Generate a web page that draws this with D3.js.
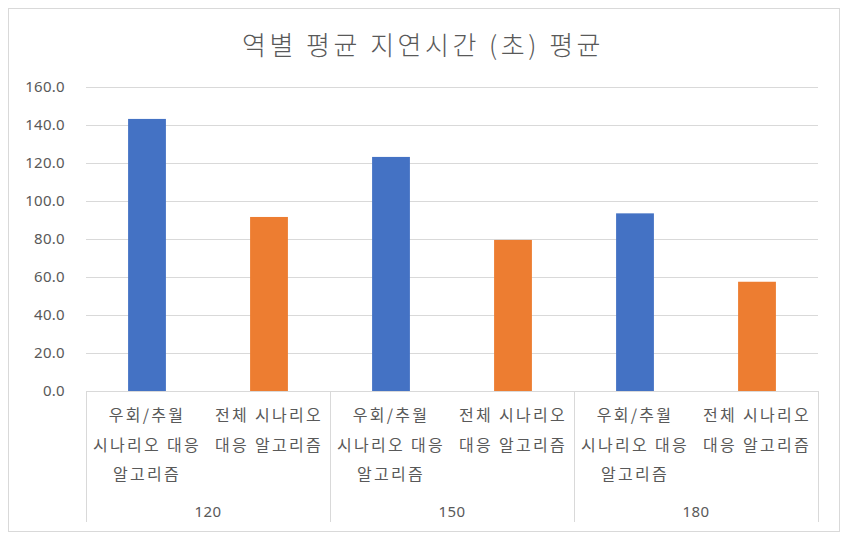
<!DOCTYPE html>
<html><head><meta charset="utf-8">
<script src="https://cdn.jsdelivr.net/npm/d3@7"></script>
<style>
html,body{margin:0;padding:0;background:#fff;}
text{font-family:"Noto Sans CJK KR","Noto Sans",sans-serif;}
</style></head>
<body><svg id="c" width="848" height="537"></svg>
<script>
const title = "역별 평균 지연시간 (초) 평균";
const groups = ["120", "150", "180"];
const subLabels = [["우회/추월", "시나리오 대응", "알고리즘"], ["전체 시나리오", "대응 알고리즘"]];
const seriesNames = ["우회/추월 시나리오 대응 알고리즘", "전체 시나리오 대응 알고리즘"];
const values = [143.2, 91.6, 123.2, 79.5, 93.5, 57.5];
const colors = ["#4472C4", "#ED7D31"];
const yTicks = [0, 20, 40, 60, 80, 100, 120, 140, 160];

(function () {
const svg = d3.select("#c");
svg.append("rect").attr("x", 8.5).attr("y", 8.5).attr("width", 831).attr("height", 523)
  .attr("fill", "#fff").attr("stroke", "#d9d9d9");

const pl = 86, pr = 818, pt = 87, pb = 391;
const keys = [];
groups.forEach((g, gi) => seriesNames.forEach((s, si) => keys.push({g, gi, si, key: g + "|" + si})));
keys.forEach((k, i) => k.v = values[i]);

const x = d3.scaleBand().domain(keys.map(k => k.key)).range([pl, pr]).paddingInner(0.69).paddingOuter(0.345);
const y = d3.scaleLinear().domain([0, 160]).range([pb, pt]);

svg.append("g").selectAll("line").data(yTicks).join("line")
  .attr("x1", pl).attr("x2", pr)
  .attr("y1", d => Math.round(y(d)) + 0.5).attr("y2", d => Math.round(y(d)) + 0.5)
  .attr("stroke", "#d9d9d9").attr("stroke-width", 1);

const yAxis = d3.axisLeft(y).tickValues(yTicks).tickFormat(d3.format(".1f")).tickSize(0).tickPadding(0);
const ya = svg.append("g").attr("transform", `translate(65,0)`).call(yAxis);
ya.select(".domain").remove();
ya.selectAll("text").attr("fill", "#595959").style("font-size", "15px").style("letter-spacing", "0.3px")
  .style("font-family", "'Noto Sans','Open Sans',sans-serif");

svg.append("g").selectAll("rect").data(keys).join("rect")
  .attr("x", d => x(d.key)).attr("width", x.bandwidth())
  .attr("y", d => y(d.v)).attr("height", d => y(0) - y(d.v))
  .attr("fill", d => colors[d.si]);

const gx = d3.scaleBand().domain(groups).range([pl, pr]);
const seps = [pl, ...groups.map(g => gx(g) + gx.bandwidth())];
svg.append("g").selectAll("line").data(seps).join("line")
  .attr("x1", d => Math.round(d) + 0.5).attr("x2", d => Math.round(d) + 0.5)
  .attr("y1", pb).attr("y2", 522)
  .attr("stroke", "#d9d9d9");

const lab = svg.append("g");
keys.forEach(k => {
  const cx = x(k.key) + x.bandwidth() / 2;
  subLabels[k.si].forEach((line, li) => {
    lab.append("text").attr("x", cx).attr("y", 421 + li * 29.5)
      .attr("text-anchor", "middle").attr("fill", "#595959")
      .style("font-size", "16px").style("letter-spacing", "2.3px").text(line);
  });
});
svg.append("g").selectAll("text").data(groups).join("text")
  .attr("x", d => gx(d) + gx.bandwidth() / 2).attr("y", 517)
  .attr("text-anchor", "middle").attr("fill", "#595959")
  .style("font-size", "15px").style("letter-spacing", "0.5px")
  .style("font-family", "'Noto Sans','Open Sans',sans-serif").text(d => d);

svg.append("text").attr("x", 423).attr("y", 55).attr("text-anchor", "middle")
  .attr("fill", "#595959").style("font-size", "26px").style("font-weight", 300)
  .style("letter-spacing", "3.5px").text(title);
})();
</script></body></html>
